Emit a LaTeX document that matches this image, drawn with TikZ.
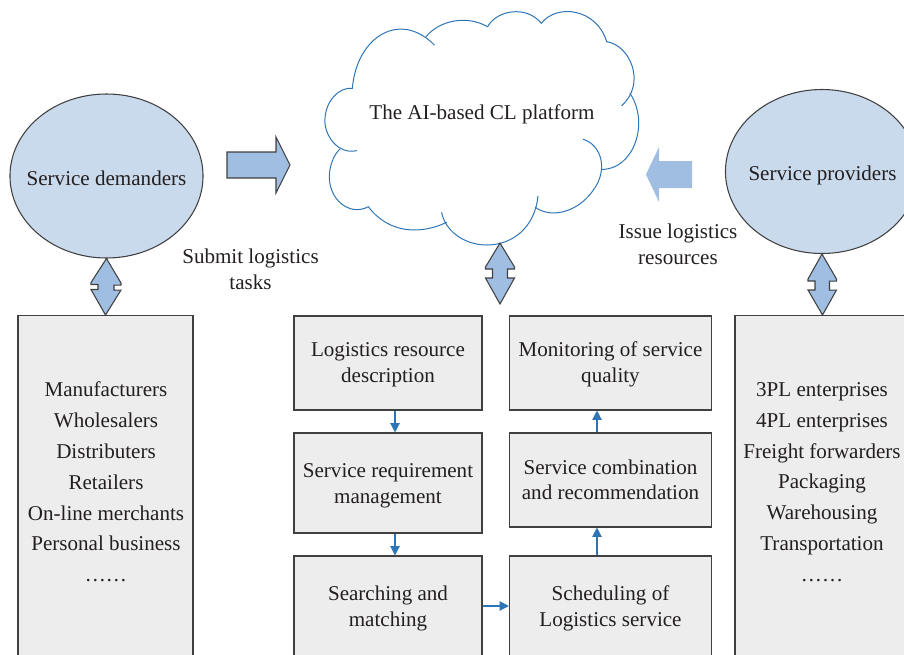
\documentclass[tikz,border=0pt]{standalone}
\usepackage{fontspec}
\setmainfont{Liberation Serif}
\definecolor{inkc}{HTML}{231F20}
\definecolor{edgec}{HTML}{404040}
\definecolor{ballc}{HTML}{CADAED}
\definecolor{blockc}{HTML}{A0BEE2}
\definecolor{boxc}{HTML}{EDEDED}
\definecolor{linkc}{HTML}{2E75B6}
\usetikzlibrary{arrows.meta,shapes.geometric}
\tikzset{
  txt/.style={text=inkc,font=\fontsize{15.8}{19.5}\selectfont,align=center,inner sep=0pt},
  ball/.style={ellipse,draw=edgec,fill=ballc,line width=0.8pt,minimum width=144.8pt,minimum height=123pt,inner sep=0pt},
  boxn/.style={rectangle,draw=edgec,fill=boxc,line width=0.8pt,inner sep=0pt},
  colA/.style={boxn,minimum width=141pt},
  colB/.style={boxn,minimum width=151.5pt},
  intext/.style 2 args={label={[txt,yshift=#1]center:{#2}}},
  tall/.style={rectangle,draw=edgec,fill=boxc,line width=0.8pt,inner sep=0pt,minimum width=131.25pt,minimum height=270pt,anchor=north},
  dbl/.style={draw=edgec,fill=blockc,line width=0.8pt,line join=miter},
  linkl/.style={draw=linkc,line width=0.9pt,-{Triangle[length=7pt,width=7pt]}},
  cloudl/.style={draw=linkc,line width=0.75pt,line cap=round},
}
\begin{document}
\begin{tikzpicture}[x=0.75pt,y=-0.75pt]
\useasboundingbox (0,0) rectangle (904,654);
\clip (0,0) rectangle (904,654);
% cloud
\begin{scope}[shift={(300,0)},x=0.25pt,y=-0.25pt]
\draw[cloudl] (157,265) .. controls (170,110) and (300,30) .. (403,135);
\draw[cloudl] (378,110) .. controls (420,60) and (500,45) .. (563,80);
\draw[cloudl] (563,80) .. controls (590,30) and (680,15) .. (724,70);
\draw[cloudl] (724,70) .. controls (770,10) and (890,25) .. (920,125);
\draw[cloudl] (920,125) .. controls (990,135) and (1040,250) .. (965,317);
\draw[cloudl] (990,280) .. controls (1050,370) and (1000,510) .. (905,508);
\draw[cloudl] (850,418) .. controls (905,435) and (925,510) .. (880,570) .. controls (840,630) and (760,660) .. (706,622);
\draw[cloudl] (714,588) .. controls (705,680) and (640,735) .. (560,735) .. controls (490,735) and (435,690) .. (425,638);
\draw[cloudl] (440,667) .. controls (360,705) and (265,700) .. (205,620);
\draw[cloudl] (205,620) .. controls (150,650) and (85,600) .. (88,525) .. controls (90,490) and (105,460) .. (120,447);
\draw[cloudl] (170,452) .. controls (110,465) and (70,400) .. (75,355) .. controls (78,300) and (120,260) .. (157,265);
\end{scope}
\node[txt] (cloudt) at (482,114) {The AI-based CL platform};
% ellipses
\node[ball] (dem) at (106.5,176) {};
\node[ball] (pro) at (822,171.5) {};
\node[txt] (demt) at (106.5,178) {Service demanders};
\node[txt] (prot) at (822.5,175.5) {Service providers};
% tall boxes
\node[tall] (dbox) at (105.5,315) {};
\node[tall] (pbox) at (822.5,315) {};
\node[txt,font=\fontsize{15.8}{23.1}\selectfont] (dlist) at (106,482) {Manufacturers\\Wholesalers\\Distributers\\Retailers\\On-line merchants\\Personal business\\……};
\node[txt,font=\fontsize{15.8}{23.1}\selectfont] (plist) at (822,482) {3PL enterprises\\4PL enterprises\\Freight forwarders\\Packaging\\Warehousing\\Transportation\\……};
% central boxes
\node[colA,minimum height=70.5pt,intext={-1.5pt}{Logistics resource\\description}] (a1) at (388,363) {};
\node[colA,minimum height=75pt,intext={-2.2pt}{Service requirement\\management}] (a2) at (388,483) {};
\node[colA,minimum height=75pt,intext={-2.2pt}{Searching and\\matching}] (a3) at (388,606) {};
\node[colB,minimum height=70.5pt,intext={-0.75pt}{Monitoring of service\\quality}] (b1) at (610.5,363) {};
\node[colB,minimum height=70.5pt,label={[txt,font=\fontsize{15.8}{18.75}\selectfont]center:{Service combination\\and recommendation}}] (b2) at (610.5,480) {};
\node[colB,minimum height=75pt,intext={-1.5pt}{Scheduling of\\Logistics service}] (b3) at (610.5,606) {};
% labels
\node[txt] (sub) at (250.5,269) {Submit logistics\\tasks};
\node[txt] (iss) at (678,244.5) {Issue logistics\\resources};
% links
\coordinate (xa) at (395,0);
\coordinate (xb) at (597,0);
\draw[linkl] (a1.south -| xa) -- (a2.north -| xa);
\draw[linkl] (a2.south -| xa) -- (a3.north -| xa);
\draw[linkl] (a3.east) -- (b3.west);
\draw[linkl] (b3.north -| xb) -- (b2.south -| xb);
\draw[linkl] (b2.north -| xb) -- (b1.south -| xb);
% block arrows
\coordinate (ra) at (227,165);
\draw[dbl] (ra) ++(0,-13) -- ++(49,0) -- ++(0,-15) -- ++(14,28) -- ++(-14,28) -- ++(0,-15) -- ++(-49,0) -- cycle;
\coordinate (la) at (646,174.5);
\fill[blockc] (la) -- ++(13,-27.5) -- ++(0,14) -- ++(33,0) -- ++(0,27) -- ++(-33,0) -- ++(0,14) -- cycle;
% double arrows
\draw[dbl] (dem.south) -- ++(14.5,24.5) -- ++(0,2) -- ++(-7,0) -- ++(0,5) -- ++(7,0) -- (dbox.north) -- ++(-14.5,-25.5) -- ++(7,0) -- ++(0,-5) -- ++(-7,0) -- ++(0,-2) -- cycle;
\coordinate (ct) at (500,243);
\coordinate (cb) at (500,304);
\draw[dbl] (ct) -- ++(14.5,24) -- ++(0,2) -- ++(-7,0) -- ++(0,9) -- ++(7,0) -- (cb) -- ++(-14.5,-26) -- ++(7,0) -- ++(0,-9) -- ++(-7,0) -- ++(0,-2) -- cycle;
\draw[dbl] (pro.south) -- ++(14.5,25) -- ++(0,2) -- ++(-7,0) -- ++(0,9) -- ++(7,0) -- (pbox.north) -- ++(-14.5,-25) -- ++(7,0) -- ++(0,-9) -- ++(-7,0) -- ++(0,-2) -- cycle;
\end{tikzpicture}
\end{document}
